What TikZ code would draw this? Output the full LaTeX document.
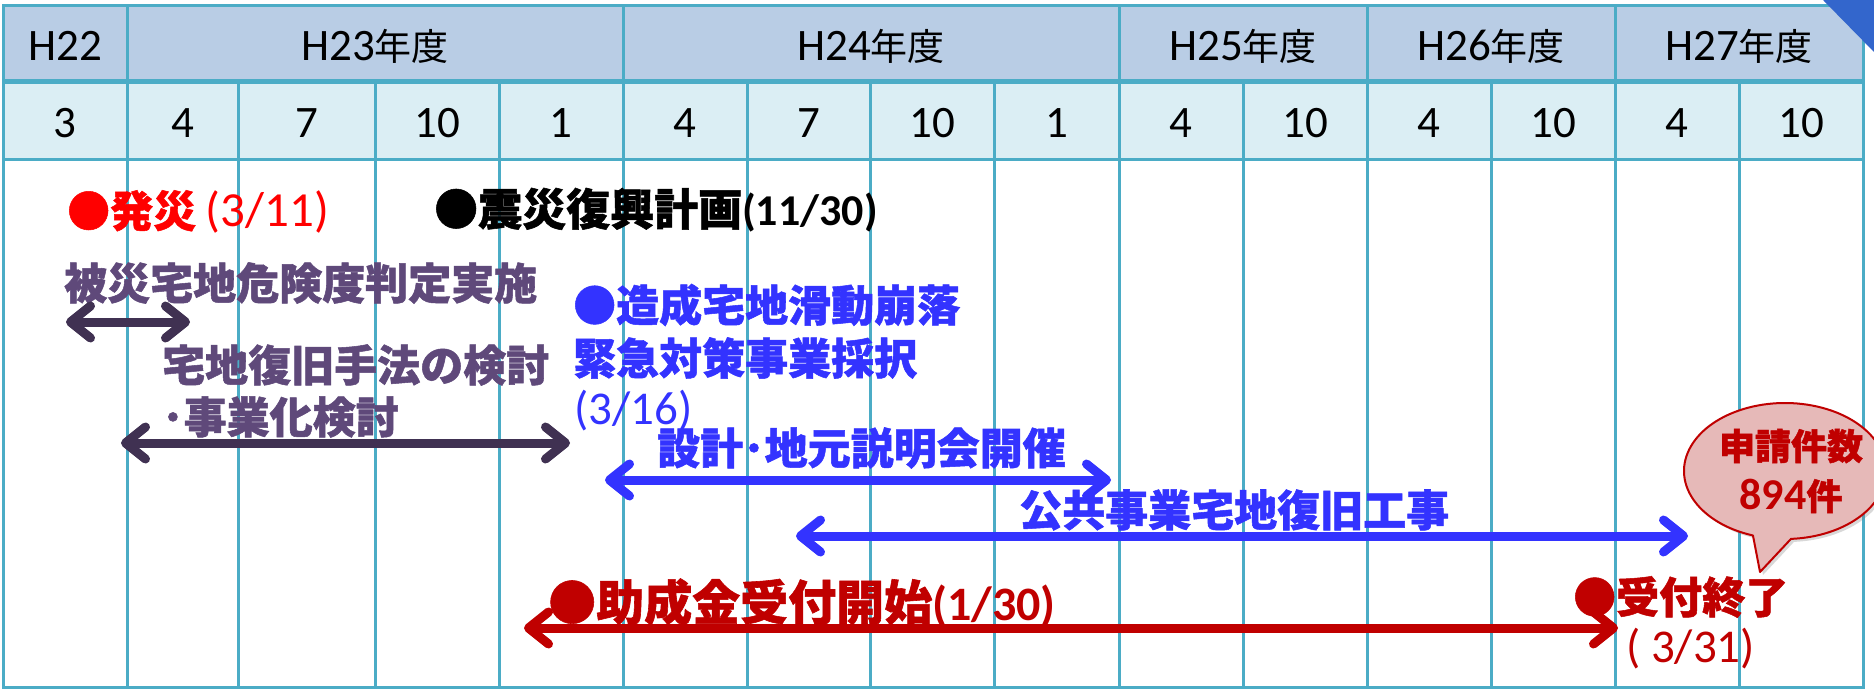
\documentclass[tikz,border=0pt]{standalone}
\usepackage{fontspec}
\setmainfont{Carlito}
\newfontfamily\jpfont{Noto Sans CJK JP}[BoldFeatures={FakeBold=1.2}]
\usetikzlibrary{arrows.meta,shadows}
\definecolor{gridc}{HTML}{4BACC6}
\definecolor{yearfill}{HTML}{B9CDE5}
\definecolor{monthfill}{HTML}{DBEEF4}
\definecolor{purpletxt}{HTML}{5F497A}
\definecolor{purplearr}{HTML}{403152}
\definecolor{bluetxt}{HTML}{3333FF}
\definecolor{darkred}{HTML}{C00000}
\definecolor{brightred}{HTML}{FF0000}
\definecolor{calloutfill}{HTML}{E6B9B8}
\definecolor{cornerblue}{HTML}{3366CC}
\newcommand\JP[1]{{\jpfont #1}}
\newcommand\yrlab[1]{#1{\jpfont\fontsize{37}{40}\selectfont 年度}}
\begin{document}
\begin{tikzpicture}[x=1pt,y=-1pt,
  gridline/.style={draw=gridc,line width=3pt},
  hdr/.style={anchor=base,inner sep=0pt,font=\fontsize{45}{50}\selectfont},
  lbl/.style={anchor=west,inner sep=0pt,font=\bfseries\fontsize{43}{48}\selectfont},
  arr/.style={line width=9pt,line cap=round,
    {Straight Barb[length=20pt,width=32pt,round]}-{Straight Barb[length=20pt,width=32pt,round]}}]
\useasboundingbox (0,0) rectangle (1874,691);
\fill[white] (0,0) rectangle (1874,691);
% header fills
\fill[yearfill] (3,5) rectangle (1863,81);
\fill[monthfill] (3,81) rectangle (1863,159);
% grid
\foreach \x in {238,375,499,747,870,994,1243,1491,1739}
  \draw[gridline] (\x,81) -- (\x,687);
\foreach \x in {127,623,1119,1367,1615}
  \draw[gridline] (\x,5) -- (\x,687);
\draw[gridline] (3,159) -- (1863,159);
\draw[gridline,line width=5pt] (3,81) -- (1863,81);
\draw[gridline] (3,5) rectangle (1863,687);
% year labels
\node[hdr] (y22) at (65,60) {H22};
\node[hdr] (y23) at (375,60) {\yrlab{H23}};
\node[hdr] (y24) at (871,60) {\yrlab{H24}};
\node[hdr] (y25) at (1243,60) {\yrlab{H25}};
\node[hdr] (y26) at (1491,60) {\yrlab{H26}};
\node[hdr] (y27) at (1739,60) {\yrlab{H27}};
% month labels
\node[hdr] (m1) at (65,137) {3};
\node[hdr] (m2) at (182.5,137) {4};
\node[hdr] (m3) at (306.5,137) {7};
\node[hdr] (m4) at (437,137) {10};
\node[hdr] (m5) at (561,137) {1};
\node[hdr] (m6) at (685,137) {4};
\node[hdr] (m7) at (808.5,137) {7};
\node[hdr] (m8) at (932,137) {10};
\node[hdr] (m9) at (1056.5,137) {1};
\node[hdr] (m10) at (1181,137) {4};
\node[hdr] (m11) at (1305,137) {10};
\node[hdr] (m12) at (1429,137) {4};
\node[hdr] (m13) at (1553,137) {10};
\node[hdr] (m14) at (1677,137) {4};
\node[hdr] (m15) at (1801,137) {10};
% body texts
\node[lbl,text=brightred] (t1) at (67,212) {\JP{●発災} {\mdseries\fontsize{49}{50}\selectfont (3/11)}};
\node[lbl,text=black,font=\bfseries\fontsize{44}{48}\selectfont] (t2) at (434,210) {\JP{●震災復興計画}(11/30)};
\node[lbl,text=purpletxt] (t3) at (64,283) {\JP{被災宅地危険度判定実施}};
\node[lbl,text=purpletxt] (t4) at (162,365) {\JP{宅地復旧手法の検討}};
\node[lbl,text=purpletxt] (t5) at (162,417) {\JP{･事業化検討}};
\node[lbl,text=bluetxt] (t6) at (573,305) {\JP{●造成宅地滑動崩落}};
\node[lbl,text=bluetxt] (t7) at (573,358) {\JP{緊急対策事業採択}};
\node[lbl,text=bluetxt,font=\fontsize{47}{48}\selectfont] (t8) at (574,411) {(3/16)};
\node[lbl,text=bluetxt] (t9) at (657,448) {\JP{設計･地元説明会開催}};
\node[lbl,text=bluetxt] (t10) at (1019,510) {\JP{公共事業宅地復旧工事}};
\node[lbl,text=darkred,font=\bfseries\fontsize{48}{50}\selectfont] (t11) at (548,603) {\JP{●助成金受付開始}(1/30)};
\node[lbl,text=darkred] (t12) at (1573,597) {\JP{●受付終了}};
\node[lbl,text=darkred,font=\fontsize{47}{48}\selectfont] (t13) at (1626,649) {( 3/31)};
% arrow ends
\coordinate (a1l) at (66,322);  \coordinate (a1r) at (190,322);
\coordinate (a2l) at (121,443); \coordinate (a2r) at (570,443);
\coordinate (a3l) at (605,480); \coordinate (a3r) at (1111,480);
\coordinate (a4l) at (796,536); \coordinate (a4r) at (1688,536);
\coordinate (a5l) at (524,628); \coordinate (a5r) at (1618,628);
\draw[arr,draw=purplearr] (a1l) -- (a1r);
\draw[arr,draw=purplearr] (a2l) -- (a2r);
\draw[arr,draw=bluetxt] (a3l) -- (a3r);
\draw[arr,draw=bluetxt] (a4l) -- (a4r);
\draw[arr,draw=darkred] (a5l) -- (a5r);
% callout
\coordinate (cc) at (1785,471);
\coordinate (tip) at (1760,572);
\path[draw=darkred,fill=calloutfill,line width=2pt,line join=round,
  drop shadow={shadow xshift=3pt,shadow yshift=-3pt,opacity=0.3}]
  (tip) -- ([shift={(cc)}]108.5:101 and 68)
  arc[start angle=108.5,end angle=446.6,x radius=101,y radius=68] -- cycle;
\node[align=center,text=darkred,inner sep=0pt,font=\bfseries\fontsize{36}{50}\selectfont]
  (callout) at (1791,471) {\JP{申請件数}\\{\fontsize{44}{50}\selectfont 894}\JP{件}};
% corner triangle
\fill[cornerblue] (1823,0) -- (1874,0) -- (1874,52) -- cycle;
\end{tikzpicture}
\end{document}
